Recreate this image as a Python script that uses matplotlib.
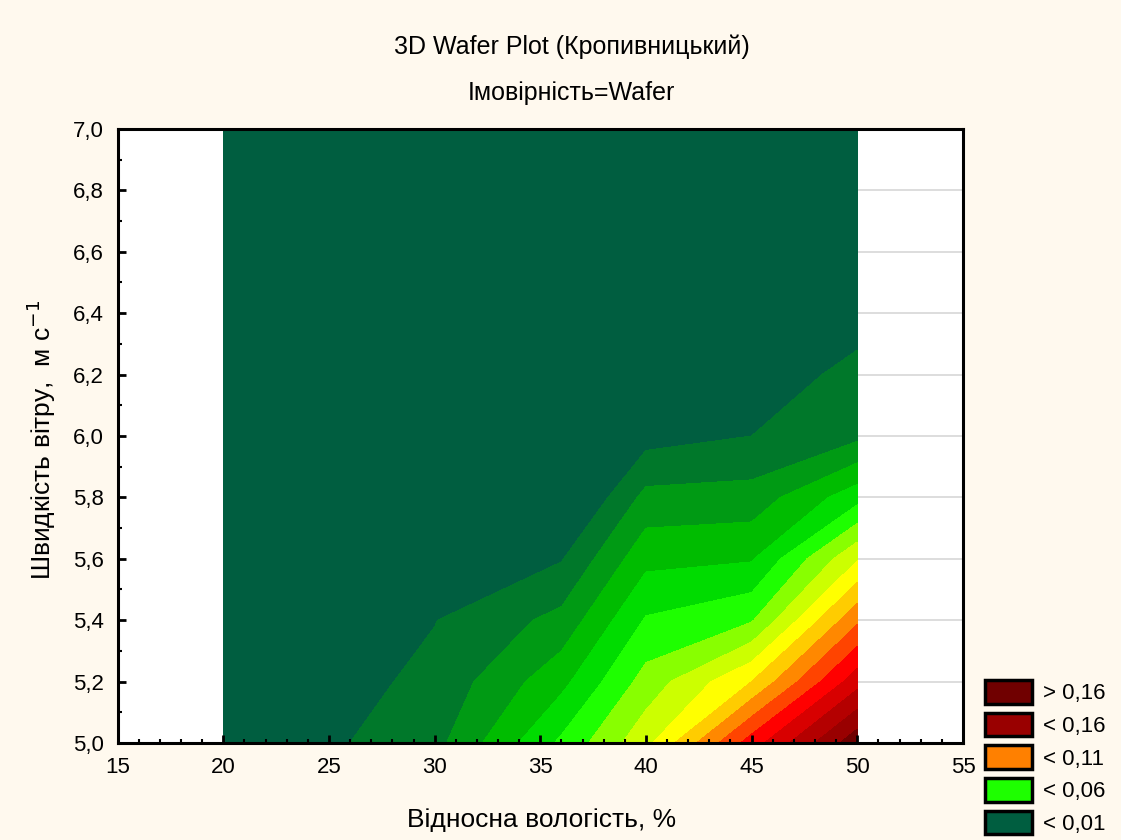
#!/usr/bin/env python3
"""Wafer (contour) plot: probability vs relative humidity and wind speed."""
import matplotlib

matplotlib.use("Agg")
import matplotlib.pyplot as plt
import numpy as np
from matplotlib.patches import Patch
from matplotlib.ticker import FuncFormatter, MultipleLocator

# grid nodes
humidity = [20, 30, 36, 40, 45, 50]  # %
wind = [5.0, 5.2, 5.4, 5.6, 5.8, 6.0, 6.2, 6.4, 6.6, 6.8, 7.0]  # m/s
# probability, one row per wind value
prob = [
    [0.0, 0.0167, 0.052, 0.077, 0.125, 0.167],
    [0.0, 0.0124, 0.037, 0.064, 0.090, 0.136],
    [0.0, 0.0097, 0.023, 0.051, 0.059, 0.108],
    [0.0, 0.005, 0.0093, 0.037, 0.039, 0.079],
    [0.0, 0.0, -0.006, 0.023, 0.024, 0.046],
    [0.0, 0.0, 0.0, 0.006, 0.010, 0.0175],
    [0.0, 0.0, 0.0, 0.0, 0.006, 0.012],
    [0.0, 0.0, 0.0, 0.0, 0.0, 0.007],
    [0.0, 0.0, 0.0, 0.0, 0.0, 0.0],
    [0.0, 0.0, 0.0, 0.0, 0.0, 0.0],
    [0.0, 0.0, 0.0, 0.0, 0.0, 0.0],
]
levels = [-1.0] + [round(0.01 * k, 2) for k in range(1, 17)] + [1.0]
band_colors = [
    "#005E40", "#00782A", "#009A14", "#00BC00", "#00DC00", "#1EFF00",
    "#88FF00", "#CCFF00", "#FFFF00", "#FFCC00", "#FF8800", "#FF4400",
    "#FF0000", "#D80000", "#B40000", "#990000", "#700000",
]
legend_labels = ["> 0,16", "< 0,16", "< 0,11", "< 0,06", "< 0,01"]
legend_colors = ["#700000", "#990000", "#FF8000", "#1EFF00", "#005E40"]

BG = "#FFF9EE"
FONT = ["Liberation Sans", "DejaVu Sans"]


def comma(v, _pos):
    return f"{v:.1f}".replace(".", ",")


def main() -> None:
    plt.rcParams["font.family"] = FONT
    fig = plt.figure(figsize=(11.21, 8.4), dpi=100, facecolor=BG)
    ax = fig.add_axes([0.105, 0.1155, 0.754, 0.731])
    ax.set_facecolor("white")

    ax.set_xlim(15, 55)
    ax.set_ylim(5.0, 7.0)
    ax.xaxis.set_major_locator(MultipleLocator(5))
    ax.xaxis.set_minor_locator(MultipleLocator(1))
    ax.yaxis.set_major_locator(MultipleLocator(0.2))
    ax.yaxis.set_minor_locator(MultipleLocator(0.1))
    ax.yaxis.set_major_formatter(FuncFormatter(comma))

    # faint grid only shows right of the data block
    grid_y = [w for w in wind[1:-1]]
    ax.hlines(grid_y, humidity[-1], 55, color="#DADADA", linewidth=1.3,
              zorder=0)
    ax.contourf(humidity, wind, np.array(prob), levels=levels,
                colors=band_colors, zorder=1)

    ax.tick_params(which="major", direction="in", length=5.5, width=2,
                   labelsize=16, pad=10)
    ax.tick_params(which="minor", direction="in", length=3, width=1.5)
    for s in ax.spines.values():
        s.set_linewidth(2.2)
        s.set_zorder(5)

    fig.text(0.51, 0.944, "3D Wafer Plot (Кропивницький)", ha="center",
             va="center", fontsize=18)
    fig.text(0.51, 0.889, "Імовірність=Wafer", ha="center", va="center",
             fontsize=18)
    fig.text(0.483, 0.024, "Відносна вологість, %", ha="center", va="center",
             fontsize=19)
    fig.text(0.037, 0.476, "Швидкість вітру,  м с$^{-1}$", ha="center",
             va="center", rotation=90, fontsize=19)

    handles = [Patch(facecolor=c, edgecolor="black", linewidth=2.5)
               for c in legend_colors]
    fig.legend(handles, legend_labels, loc="lower left",
               bbox_to_anchor=(0.879, 0.006), frameon=False, fontsize=16,
               handlelength=2.1, handleheight=1.25, labelspacing=0.38,
               handletextpad=0.5, borderpad=0.0, borderaxespad=0.0)

    fig.savefig("out.png", dpi=100, facecolor=BG)


if __name__ == "__main__":
    main()
